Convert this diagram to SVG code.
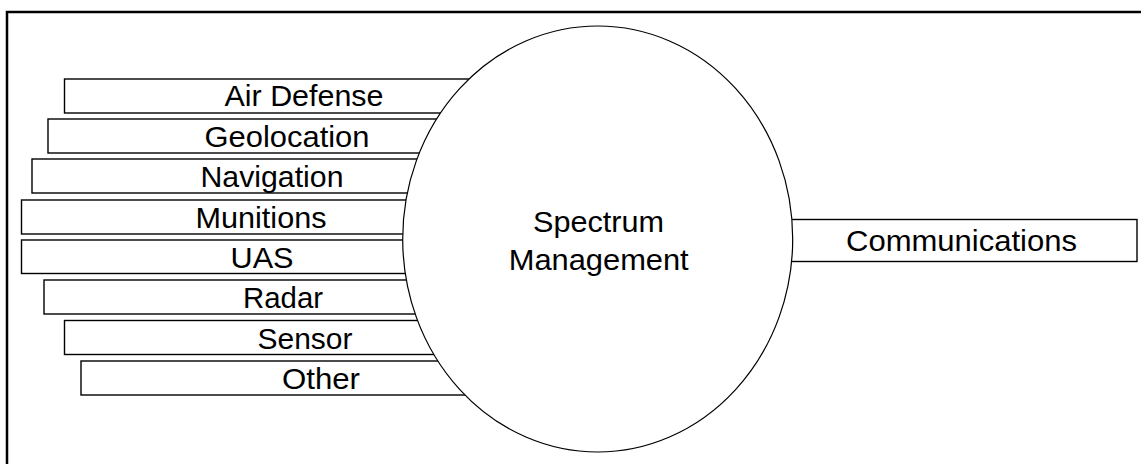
<svg xmlns="http://www.w3.org/2000/svg" width="1141" height="464" viewBox="0 0 1141 464">
<style>
.box{fill:#fff;stroke:#000;stroke-width:1.4}
.lbl{font-family:"Liberation Sans",Arial,sans-serif;font-size:30px;fill:#000;text-anchor:middle}
</style>
<rect x="0" y="0" width="1141" height="464" fill="#fff"/>
<g id="frame"><rect x="7" y="12" width="1150" height="470" fill="none" stroke="#000" stroke-width="2.5"/></g>
<g id="connectors"></g>
<g id="air-defense"><rect class="box" x="64.5" y="79" width="540" height="34"/><text class="lbl" x="304" y="106" textLength="159" lengthAdjust="spacingAndGlyphs">Air Defense</text></g>
<g id="geolocation"><rect class="box" x="48" y="119" width="560" height="34"/><text class="lbl" x="287" y="147" textLength="165" lengthAdjust="spacingAndGlyphs">Geolocation</text></g>
<g id="navigation"><rect class="box" x="32" y="159" width="570" height="34"/><text class="lbl" x="272" y="187" textLength="143" lengthAdjust="spacingAndGlyphs">Navigation</text></g>
<g id="munitions"><rect class="box" x="21.5" y="200" width="580" height="34"/><text class="lbl" x="261" y="228" textLength="131" lengthAdjust="spacingAndGlyphs">Munitions</text></g>
<g id="uas"><rect class="box" x="21.5" y="240" width="580" height="33.5"/><text class="lbl" x="262" y="268" textLength="63" lengthAdjust="spacingAndGlyphs">UAS</text></g>
<g id="radar"><rect class="box" x="44" y="280" width="560" height="34"/><text class="lbl" x="283" y="308" textLength="80" lengthAdjust="spacingAndGlyphs">Radar</text></g>
<g id="sensor"><rect class="box" x="64.5" y="320.5" width="540" height="34"/><text class="lbl" x="305" y="348.5" textLength="95" lengthAdjust="spacingAndGlyphs">Sensor</text></g>
<g id="other"><rect class="box" x="81" y="361" width="520" height="34"/><text class="lbl" x="321" y="389" textLength="78" lengthAdjust="spacingAndGlyphs">Other</text></g>
<g id="communications"><rect class="box" x="760" y="219.5" width="377" height="42"/><text class="lbl" x="961.5" y="250.5" textLength="231" lengthAdjust="spacingAndGlyphs">Communications</text></g>
<g id="spectrum-management"><ellipse cx="597.7" cy="239" rx="195" ry="213" fill="#fff" stroke="#000" stroke-width="1.2"/><text class="lbl" x="598.5" y="231.5" textLength="131" lengthAdjust="spacingAndGlyphs">Spectrum</text><text class="lbl" x="598.7" y="269.5" textLength="180" lengthAdjust="spacingAndGlyphs">Management</text></g>
</svg>
